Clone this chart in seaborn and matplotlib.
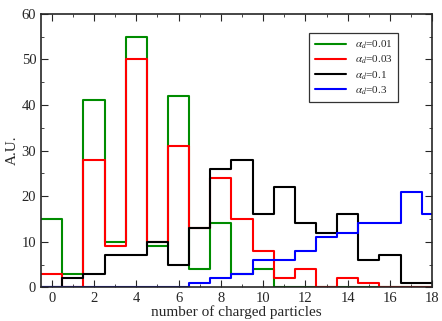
import numpy as np
import pandas as pd
import seaborn as sns
import matplotlib.pyplot as plt
from matplotlib.lines import Line2D
from matplotlib.ticker import MultipleLocator

n = np.arange(0, 19)
a001 = [15, 3, 41, 10, 55, 9, 42, 4, 14, 3, 4, 0, 0, 0, 0, 0, 0, 0, 0]
a003 = [3, 0, 28, 9, 50, 10, 31, 13, 24, 15, 8, 2, 4, 0, 2, 1, 0, 0, 0]
a01 = [0, 2, 3, 7, 7, 10, 5, 13, 26, 28, 16, 22, 14, 12, 16, 6, 7, 1, 1]
a03 = [0, 0, 0, 0, 0, 0, 0, 1, 2, 3, 6, 6, 8, 11, 12, 14, 14, 21, 16]

labels = [r"$\alpha_d$=0.01", r"$\alpha_d$=0.03", r"$\alpha_d$=0.1", r"$\alpha_d$=0.3"]
colors = ["#008c00", "#ff0000", "#000000", "#0000ff"]

sns.set_style("ticks")
plt.rcParams["font.family"] = ["Liberation Serif", "DejaVu Serif"]
plt.rcParams["mathtext.fontset"] = "stix"

fig, ax = plt.subplots(figsize=(4.42, 3.21), dpi=100)
fig.subplots_adjust(left=0.093, right=0.978, top=0.957, bottom=0.105)

for vals, c in zip([a001, a003, a01, a03], colors):
    sns.histplot(x=n, weights=vals, discrete=True, element="step", fill=False,
                 color=c, lw=1.5, ax=ax)

ax.set_xlim(-0.5, 18)
ax.set_ylim(0, 60)
ax.xaxis.set_major_locator(MultipleLocator(2))
ax.xaxis.set_minor_locator(MultipleLocator(1))
ax.yaxis.set_major_locator(MultipleLocator(10))
ax.yaxis.set_minor_locator(MultipleLocator(5))
ax.tick_params(which="both", direction="in", top=True, right=True, labelsize=10.5)
ax.tick_params(which="major", length=5)
ax.tick_params(which="minor", length=2.5)
for s in ax.spines.values():
    s.set_linewidth(1.2)
ax.set_xlabel("number of charged particles", fontsize=11, labelpad=0)
ax.set_ylabel("A.U.", fontsize=11, labelpad=2)

handles = [Line2D([], [], color=c, lw=1.5) for c in colors]
leg = ax.legend(handles, labels, loc="upper right", bbox_to_anchor=(0.913, 0.93),
                borderaxespad=0, fontsize=8, frameon=True, fancybox=False,
                edgecolor="black", handlelength=2.8, borderpad=0.5,
                labelspacing=0.25)
leg.get_frame().set_linewidth(0.9)

fig.savefig("out.png", dpi=100)
